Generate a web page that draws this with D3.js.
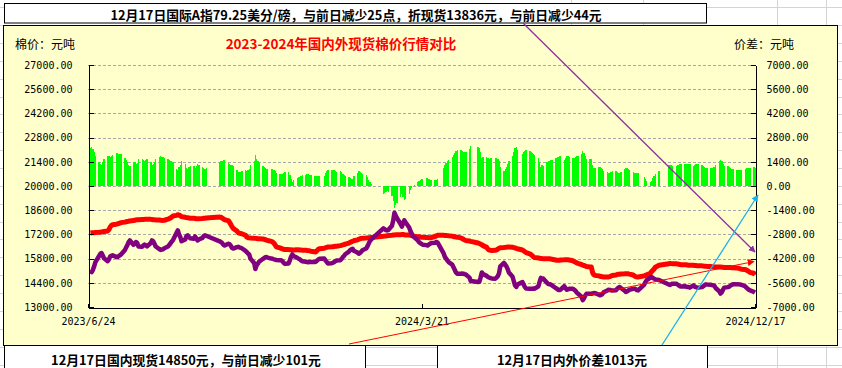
<!DOCTYPE html>
<html>
<head>
<meta charset="utf-8">
<script src="https://cdn.jsdelivr.net/npm/d3@7"></script>
<style>
  body { margin: 0; background: #fff; }
  svg text { font-family: "Noto Sans CJK SC", sans-serif; }
  .tick text { font-family: "DejaVu Sans Mono", "Noto Sans CJK SC", monospace; font-size: 10px; fill: #000; }
</style>
</head>
<body>
<svg id="chart" width="842" height="368"></svg>
<script>
// ---- chart values -------------------------------------------------------
// one row per week (Mon..Fri), null = no quote (weekend / holiday)
const firstMonday = new Date(2023, 5, 26);

// 国内现货 3128B, 元/吨
const domestic = [
  [17280,17290,17300,17300,17310],[17320,17330,17340,17350,17370],[17400,17480,17620,17720,17760],
  [17790,17810,17830,17860,17880],[17910,17930,17950,17960,17980],[18000,18020,18040,18050,18050],
  [18060,18060,18070,18070,18080],[18070,18060,18050,18050,18040],[18030,18020,18010,18010,18020],
  [18080,18110,18150,18200,18260],[18300,18340,18320,18280,18230],[18190,18170,18160,18150,18140],
  [18130,18120,18110,18110,18110],[18120,18130,18140,18150,null],[null,null,null,null,null],
  [18200,18190,18150,18100,18050],[18000,17900,17780,17650,17550],[17400,17300,17270,17250,17240],
  [17150,17050,17010,17000,16990],[16980,16970,16960,16950,16950],[16940,16920,16900,16870,16850],
  [16800,16760,16700,16600,16480],[16420,16390,16360,16340,16320],[16320,16310,16310,16300,16300],
  [16310,16310,16300,16300,16290],[16280,16270,16260,16250,16230],[16200,16180,16250,16330,16370],
  [null,16400,16430,16450,16470],[16480,16490,16500,16510,16520],[16550,16570,16590,16610,16640],
  [16700,16740,16770,16800,16830],[16880,16920,16950,16970,16980],[16990,17000,17010,17010,17020],
  [null,null,null,null,null],[17090,17100,17110,17120,17130],[17150,17160,17170,17175,17180],
  [17185,17190,17190,17180,17170],[17160,17150,17130,17110,17090],[17070,17060,17050,17040,17030],
  [17020,17015,17010,17010,17020],[17080,17120,17145,null,null],[17145,17140,17140,17130,17120],
  [17100,17080,17060,17050,17040],[17000,16960,16920,16880,16850],[16820,16800,null,null,null],
  [16700,16670,16640,16600,16550],[16450,16350,16290,16280,16270],[16280,16300,16350,16400,16430],
  [16440,16450,16460,16470,16470],[16460,16440,16420,16390,16370],[null,16300,16250,16200,16150],
  [16080,16030,15970,15900,15860],[15840,15820,15810,15800,15795],[15795,15795,15790,15780,15760],
  [15720,15700,15700,15710,15720],[15730,15740,15740,15730,15720],[15680,15620,15600,15560,15520],
  [15460,15420,15400,15380,15340],[15320,15310,15000,14870,14830],[14800,14780,14760,14750,14740],
  [14735,14740,14760,14790,14820],[14850,14880,14890,14900,14910],[14920,14930,14930,14920,14900],
  [14850,14800,14760,14740,14735],[null,null,14800,14830,14860],[14950,15050,15120,15200,15300],
  [15410,null,null,null,null],[null,15500,15520,15510,15500],[15500,15490,15470,15460,15450],
  [15450,15440,15430,15420,15410],[15410,15400,15400,15390,15380],[15380,15370,15360,15355,15350],
  [15340,15330,15330,15320,15320],[15320,15310,15300,15300,15290],[15290,15280,15280,15270,15270],
  [15260,15250,15230,15210,15190],[15170,15140,15100,15050,15000],[14951,14850,null,null,null]
];

// 国际A指折现货, 元/吨
const international = [
  [15080,15020,15150,15350,15600],[15950,16080,16120,15980,15820],[15650,15750,15920,15960,15990],
  [15900,15880,15950,15990,16050],[16300,16450,16580,16750,16850],[16600,16650,16760,16700,16500],
  [16480,16560,16610,16560,16510],[16700,16850,16800,16660,16500],[16350,16300,16320,16340,16400],
  [16500,16580,16680,16780,16860],[17300,17430,17200,17050,16800],[16900,17100,17150,17050,16980],
  [16950,17080,16980,16850,16900],[17000,17100,17150,17120,null],[null,null,null,null,null],
  [16800,16760,16700,16600,16560],[16660,16640,16550,16420,16380],[16460,16480,16450,16430,16400],
  [16250,16180,16100,16040,15800],[15550,15200,15400,15500,15620],[15780,15820,15880,15890,15860],
  [15800,15790,15760,15740,15720],[15710,15700,15650,15560,15500],[15520,15700,15900,16040,15950],
  [15850,15800,15760,15700,15650],[15620,15600,15590,15610,15600],[15600,15620,15680,15740,15790],
  [null,15800,15700,15600,15520],[15530,15560,15600,15650,15690],[15700,15780,15880,15950,16050],
  [16200,16290,16340,16370,16250],[16150,16080,16120,16200,16280],[16380,16500,16650,16800,16900],
  [null,null,null,null,null],[17550,17500,17450,17430,17450],[17700,18000,18450,18300,18150],
  [17800,17650,17850,18010,17900],[17600,17400,17250,17100,17050],[16850,16750,16700,16650,16600],
  [16580,16560,16620,16660,16700],[16720,16760,16740,null,null],[16100,15900,15800,15700,15600],
  [15450,15300,15150,15000,14930],[14920,14940,14930,14900,14880],[14700,14500,null,null,null],
  [14450,14460,14700,15000,14900],[14800,14740,14700,14680,14650],[14640,14700,14780,14950,15350],
  [15550,15450,15350,15200,15000],[14750,14500,14250,14160,14300],[null,14440,14300,14150,14070],
  [14060,14050,14060,14070,14060],[14200,14450,14690,14600,14640],[14400,14330,14320,14300,14250],
  [14100,14060,14000,13980,14000],[14200,14100,14000,14020,14050],[14060,14000,13950,13850,13780],
  [13600,13400,13500,13650,13760],[13770,13760,13780,13810,13800],[13720,13680,13700,13750,13850],
  [13950,14000,13990,13970,13960],[13970,14050,14120,14160,14100],[13950,13870,13900,13950,14000],
  [14050,14060,14030,13980,13960],[null,null,14300,14450,14550],[14700,14740,14680,14640,14600],
  [14560,null,null,null,null],[null,14300,14280,14320,14350],[14350,14300,14250,14200,14180],
  [14200,14180,14150,14160,14120],[14250,14180,14150,14130,14120],[14150,14200,14260,14310,14300],
  [14290,14270,14250,14230,14100],[13900,13780,13850,14000,14120],[14150,14180,14230,14280,14310],
  [14310,14320,14310,14300,14280],[14200,14120,14060,14000,13960],[13880,13836,null,null,null]
];

const leftTicks = [13000, 14400, 15800, 17200, 18600, 20000, 21400, 22800, 24200, 25600, 27000];
const rightTicks = [-7000, -5600, -4200, -2800, -1400, 0, 1400, 2800, 4200, 5600, 7000];
const dateTicks = ["2023/6/24", "2024/3/21", "2024/12/17"];

const chartTitle = "2023-2024年国内外现货棉价行情对比";
const leftUnit = "棉价：元吨";
const rightUnit = "价差：元吨";
const headline = "12月17日国际A指79.25美分/磅，与前日减少25点，折现货13836元，与前日减少44元";
const domesticNote = "12月17日国内现货14850元，与前日减少101元";
const spreadNote = "12月17日内外价差1013元";

// ---- flatten weeks into trading days -------------------------------------
const data = [];
domestic.forEach((week, w) => {
  week.forEach((v, d) => {
    if (v == null) return;
    const intl = international[w][d];
    data.push({
      date: d3.timeDay.offset(firstMonday, w * 7 + d),
      domestic: v,
      international: intl,
      spread: v - intl   // 内外价差
    });
  });
});

const parseDate = d3.timeParse("%Y/%m/%d");
const fmtDate = d3.timeFormat("%Y/%-m/%-d");
const tickDates = dateTicks.map(parseDate);

const svg = d3.select("#chart");

// ---- spreadsheet background grid -------------------------------------------
const sheet = svg.append("g").attr("stroke", "#d4d4d4").attr("stroke-width", 1);
sheet.selectAll("line.row")
  .data(d3.range(21).map((k) => Math.round(7.3 + k * 17.86) + 0.5))
  .join("line")
  .attr("x1", 0).attr("x2", 842)
  .attr("y1", (d) => d).attr("y2", (d) => d);
sheet.selectAll("line.col")
  .data([571.5, 643.5, 777.5, 826.5])
  .join("line")
  .attr("y1", 0).attr("y2", 368)
  .attr("x1", (d) => d).attr("x2", (d) => d);

// ---- text boxes ------------------------------------------------------------
svg.append("rect")
  .attr("x", 4.5).attr("y", 3.5).attr("width", 702).attr("height", 19.5)
  .attr("fill", "#fff").attr("stroke", "#000");
svg.append("text")
  .attr("x", 356).attr("y", 14)
  .attr("text-anchor", "middle").attr("dominant-baseline", "central")
  .style("font-size", "12.8px").style("font-weight", "bold")
  .text(headline);

svg.append("rect")
  .attr("x", 4.5).attr("y", 345.5).attr("width", 361).attr("height", 30)
  .attr("fill", "#fff").attr("stroke", "#000");
svg.append("text")
  .attr("x", 186).attr("y", 359)
  .attr("text-anchor", "middle").attr("dominant-baseline", "central")
  .style("font-size", "12.8px").style("font-weight", "bold")
  .text(domesticNote);

svg.append("rect")
  .attr("x", 437.5).attr("y", 345.5).attr("width", 270).attr("height", 30)
  .attr("fill", "#fff").attr("stroke", "#000");
svg.append("text")
  .attr("x", 572).attr("y", 359)
  .attr("text-anchor", "middle").attr("dominant-baseline", "central")
  .style("font-size", "12.8px").style("font-weight", "bold")
  .text(spreadNote);

// ---- chart area ------------------------------------------------------------
svg.append("rect")
  .attr("x", 3.5).attr("y", 25.5).attr("width", 834).attr("height", 320)
  .attr("fill", "#FFFFCC").attr("stroke", "#000");

svg.append("text")
  .attr("x", 341).attr("y", 43)
  .attr("text-anchor", "middle").attr("dominant-baseline", "central")
  .style("font-size", "13.5px").style("font-weight", "bold").attr("fill", "#ff0000")
  .text(chartTitle);
svg.append("text")
  .attr("x", 15).attr("y", 43).attr("dominant-baseline", "central")
  .style("font-size", "12px")
  .text(leftUnit);
svg.append("text")
  .attr("x", 734).attr("y", 43).attr("dominant-baseline", "central")
  .style("font-size", "12px")
  .text(rightUnit);

// scales
const x = d3.scaleTime().domain([tickDates[0], tickDates[2]]).range([88, 755]);
const yL = d3.scaleLinear().domain([13000, 27000]).range([307, 65]);
const yR = d3.scaleLinear().domain([-7000, 7000]).range([307, 65]);

// dashed gridlines
svg.append("g")
  .selectAll("line")
  .data(leftTicks.slice(1))
  .join("line")
  .attr("x1", 88).attr("x2", 755)
  .attr("y1", (d) => Math.round(yL(d)) + 0.5).attr("y2", (d) => Math.round(yL(d)) + 0.5)
  .attr("stroke", "#a8a8a8").attr("stroke-dasharray", "3,2");

// spread bars (right axis)
const dayW = x(d3.timeDay.offset(tickDates[0], 1)) - x(tickDates[0]);
svg.append("g")
  .attr("fill", "#00ff00")
  .attr("shape-rendering", "crispEdges")
  .selectAll("rect")
  .data(data)
  .join("rect")
  .attr("x", (d) => x(d.date) - dayW / 2)
  .attr("width", dayW + 0.15)
  .attr("y", (d) => Math.min(yR(d.spread), yR(0)))
  .attr("height", (d) => Math.abs(yR(d.spread) - yR(0)));

// price lines (left axis)
const lineDom = d3.line().x((d) => x(d.date)).y((d) => yL(d.domestic));
const lineIntl = d3.line().x((d) => x(d.date)).y((d) => yL(d.international));

svg.append("path")
  .datum(data)
  .attr("d", lineDom)
  .attr("fill", "none").attr("stroke", "#ff0000")
  .attr("stroke-width", 5).attr("stroke-linejoin", "round");
svg.append("path")
  .datum(data)
  .attr("d", lineIntl)
  .attr("fill", "none").attr("stroke", "#800080")
  .attr("stroke-width", 4.5).attr("stroke-linejoin", "round");

// axes
const axisL = d3.axisLeft(yL).tickValues(leftTicks)
  .tickFormat((d) => d.toFixed(2)).tickSizeInner(-5).tickSizeOuter(0).tickPadding(16);
const axisR = d3.axisRight(yR).tickValues(rightTicks)
  .tickFormat((d) => d.toFixed(2)).tickSizeInner(-5).tickSizeOuter(0).tickPadding(11);
const axisB = d3.axisBottom(x).tickValues(tickDates)
  .tickFormat(fmtDate).tickSizeInner(-4).tickSizeOuter(0).tickPadding(10);

svg.append("g").attr("transform", "translate(88.5,0)").call(axisL);
svg.append("g").attr("transform", "translate(755.5,0)").call(axisR);
svg.append("g").attr("transform", "translate(0,307.5)").call(axisB);
svg.selectAll(".domain, .tick line").attr("stroke", "#000").attr("shape-rendering", "crispEdges");

// ---- callout arrows ----------------------------------------------------------
const arrows = [
  { from: [523, 23], to: [755, 252], color: "#9030a0", w: 1.3 },
  { from: [349, 344], to: [754, 261.5], color: "#ff0000", w: 1 },
  { from: [662, 345], to: [758, 195], color: "#1ab0f0", w: 1.3 }
];
const defs = svg.append("defs");
arrows.forEach((a, i) => {
  defs.append("marker")
    .attr("id", "arrow" + i)
    .attr("viewBox", "0 0 10 10").attr("refX", 9).attr("refY", 5)
    .attr("markerWidth", 7).attr("markerHeight", 7)
    .attr("markerUnits", "userSpaceOnUse")
    .attr("orient", "auto")
    .append("path").attr("d", "M0,0L10,5L0,10Z").attr("fill", a.color);
  svg.append("line")
    .attr("x1", a.from[0]).attr("y1", a.from[1])
    .attr("x2", a.to[0]).attr("y2", a.to[1])
    .attr("stroke", a.color).attr("stroke-width", a.w)
    .attr("marker-end", "url(#arrow" + i + ")");
});
</script>
</body>
</html>
